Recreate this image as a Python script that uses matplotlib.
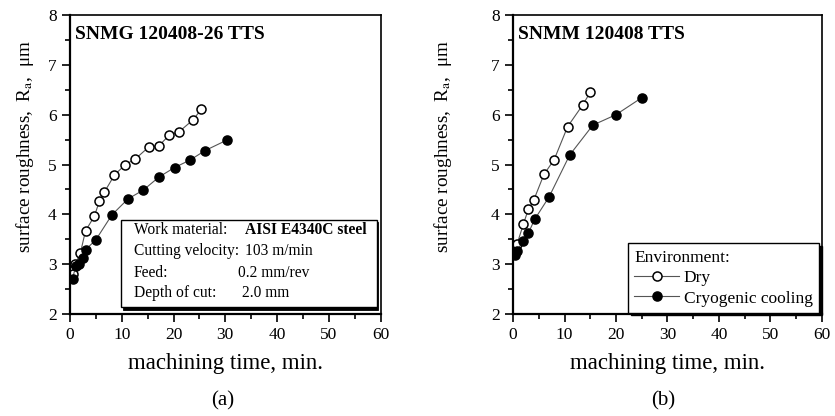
import matplotlib.pyplot as plt
from matplotlib.patches import Rectangle
from matplotlib.ticker import MultipleLocator

plt.rcParams['font.family'] = ['Liberation Serif', 'DejaVu Serif']
plt.rcParams['mathtext.fontset'] = 'stix'

# (a) SNMG 120408-26 TTS
a_dry_t = [0.5, 1.0, 2.0, 3.0, 4.7, 5.7, 6.6, 8.6, 10.7, 12.6, 15.2, 17.2, 19.2, 21.1, 23.7, 25.4]
a_dry_ra = [2.80, 3.00, 3.22, 3.67, 3.96, 4.27, 4.44, 4.79, 5.00, 5.11, 5.35, 5.38, 5.59, 5.66, 5.89, 6.11]
a_cryo_t = [0.5, 1.1, 1.8, 2.5, 3.0, 5.0, 8.1, 11.2, 14.2, 17.2, 20.2, 23.2, 26.1, 30.3]
a_cryo_ra = [2.70, 2.97, 3.00, 3.13, 3.29, 3.49, 3.99, 4.31, 4.49, 4.75, 4.94, 5.09, 5.28, 5.49]

# (b) SNMM 120408 TTS
b_dry_t = [0.4, 0.8, 2.0, 3.0, 4.0, 6.0, 8.0, 10.6, 13.5, 15.0]
b_dry_ra = [3.28, 3.41, 3.80, 4.11, 4.28, 4.80, 5.10, 5.76, 6.19, 6.45]
b_cryo_t = [0.3, 0.7, 2.0, 3.0, 4.2, 7.0, 11.0, 15.5, 20.0, 25.0]
b_cryo_ra = [3.18, 3.26, 3.47, 3.63, 3.90, 4.35, 5.19, 5.79, 6.00, 6.34]

conditions = [("Work material:", "AISI E4340C steel", 0.565, 'bold'),
              ("Cutting velocity:", "103 m/min", 0.565, 'normal'),
              ("Feed:", "0.2 mm/rev", 0.54, 'normal'),
              ("Depth of cut:", "2.0 mm", 0.555, 'normal')]

fig = plt.figure(figsize=(8.35, 4.16), dpi=100)
ax_a = fig.add_axes([0.0838, 0.245, 0.372, 0.719])
ax_b = fig.add_axes([0.6144, 0.245, 0.370, 0.719])


def style_axes(ax, label_x):
    ax.set_xlim(0, 60)
    ax.set_ylim(2, 8)
    ax.xaxis.set_major_locator(MultipleLocator(10))
    ax.xaxis.set_minor_locator(MultipleLocator(5))
    ax.yaxis.set_major_locator(MultipleLocator(1))
    ax.yaxis.set_minor_locator(MultipleLocator(0.5))
    ax.tick_params(which='both', direction='out', top=False, right=False, width=1.2, labelsize=12.5)
    ax.tick_params(which='major', length=6)
    ax.tick_params(which='minor', length=3.5)
    for s in ax.spines.values():
        s.set_linewidth(1.2)
    ax.spines['left'].set_linewidth(1.6)
    ax.spines['bottom'].set_linewidth(1.6)
    ax.set_xlabel("machining time, min.", fontsize=16.5, labelpad=7)
    ax.set_ylabel(r"surface roughness,  R$_{\rm a}$,  μm", fontsize=13.8)
    ax.yaxis.set_label_coords(label_x, 0.56)


def draw_series(ax, t_dry, ra_dry, t_cryo, ra_cryo):
    ax.plot(t_dry, ra_dry, '-o', color='#555555', lw=0.8, ms=6.5,
            mfc='white', mec='black', mew=1.1, label="Dry")
    ax.plot(t_cryo, ra_cryo, '-o', color='#555555', lw=0.8, ms=6.5,
            mfc='black', mec='black', mew=1.1, label="Cryogenic cooling")


style_axes(ax_a, -0.11)
style_axes(ax_b, -0.19)

draw_series(ax_a, a_dry_t, a_dry_ra, a_cryo_t, a_cryo_ra)
draw_series(ax_b, b_dry_t, b_dry_ra, b_cryo_t, b_cryo_ra)

ax_a.text(0.016, 0.935, "SNMG 120408-26 TTS", transform=ax_a.transAxes,
          fontsize=14, fontweight='bold', va='center')
ax_b.text(0.016, 0.935, "SNMM 120408 TTS", transform=ax_b.transAxes,
          fontsize=14, fontweight='bold', va='center')

# cutting conditions box with a thin drop shadow
box_x, box_y, box_w, box_h = 0.165, 0.022, 0.822, 0.293
ax_a.add_patch(Rectangle((box_x + 0.005, box_y - 0.007), box_w, box_h, transform=ax_a.transAxes,
                         facecolor='black', edgecolor='black', lw=0.6, zorder=4))
ax_a.add_patch(Rectangle((box_x, box_y), box_w, box_h, transform=ax_a.transAxes,
                         facecolor='white', edgecolor='black', lw=1.0, zorder=5))
row_y = [0.281, 0.212, 0.137, 0.070]
for (name, val, xv, wt), yy in zip(conditions, row_y):
    ax_a.text(0.206, yy, name, transform=ax_a.transAxes, fontsize=11.2, va='center', zorder=6)
    ax_a.text(xv, yy, val, transform=ax_a.transAxes, fontsize=11.2, va='center',
              fontweight=wt, zorder=6)

leg = ax_b.legend(loc='lower right', bbox_to_anchor=(0.99, 0.005), title="Environment:",
                  fontsize=12.5, title_fontsize=12.5, frameon=True, fancybox=False,
                  shadow={'color': 'black', 'alpha': 1}, edgecolor='black',
                  handlelength=2.6, handletextpad=0.25, borderpad=0.35, labelspacing=0.25,
                  alignment='left', borderaxespad=0)
leg.get_frame().set_linewidth(1.0)
leg.get_frame().set_alpha(1)

fig.text(0.267, 0.036, "(a)", fontsize=15, ha='center', va='center')
fig.text(0.794, 0.036, "(b)", fontsize=15, ha='center', va='center')

fig.savefig("out.png", dpi=100)
